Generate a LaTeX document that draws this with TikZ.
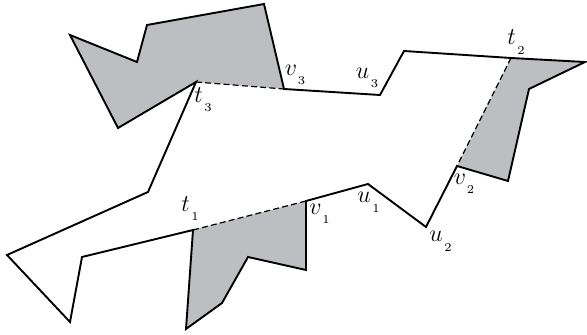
\documentclass[tikz,border=0pt]{standalone}
\usepackage{tikz}
\usetikzlibrary{calc}
\definecolor{pocketgray}{RGB}{189,190,194}
\newcommand{\lowidx}[1]{_{\kern0.8pt\raisebox{-3pt}{$\scriptscriptstyle #1$}}}

\begin{document}
\begin{tikzpicture}[x=0.5pt,y=-0.5pt,line join=miter,
  edge/.style={line width=0.95pt},
  chord/.style={line width=0.6pt,dashed,dash pattern=on 3pt off 1.6pt},
  lbl/.style={inner sep=0pt,font=\fontsize{13}{15}\selectfont}]
\useasboundingbox (0,0) rectangle (587,335);
%% named vertices
\coordinate (t3) at (196,82);
\coordinate (v3) at (284,89);
\coordinate (u3) at (380,95);
\coordinate (t2) at (511,58);
\coordinate (v2) at (457,166);
\coordinate (u2) at (426,227);
\coordinate (u1) at (368,184);
\coordinate (v1) at (306,201);
\coordinate (t1) at (193,230);
%% shaded pockets
\fill[pocketgray] (t1)--(186,329)--(222,303)--(248,257)--(306,270)--(v1)--cycle;
\fill[pocketgray] (v2)--(508,181)--(529,89)--(585,62)--(t2)--cycle;
\fill[pocketgray] (t3)--(v3)--(264,4)--(147,25)--(137,62)--(70,35)--(118,128)--cycle;
%% boundary
\draw[edge] (t3)--(148,192)--(7,255)--(70,322)--(82,257)--(t1)
  --(186,329)--(222,303)--(248,257)--(306,270)--(v1)--(u1)--(u2)--(v2)
  --(508,181)--(529,89)--(585,62)--(t2)--(404,51)--(u3)--(v3)
  --(264,4)--(147,25)--(137,62)--(70,35)--(118,128)--cycle;
%% dashed chords
\draw[chord] (t3)--(v3);
\draw[chord] (t1)--(v1);
\draw[chord] (t2)--(v2);
%% labels
\node[lbl] (t3l) at ($(t3)+(7.5,17.5)$) {$t\lowidx{3}$};
\node[lbl] (v3l) at ($(v3)+(11.5,-14)$) {$v\lowidx{3}$};
\node[lbl] (u3l) at ($(u3)+(-12.5,-17)$) {$u\lowidx{3}$};
\node[lbl] (t2l) at ($(t2)+(5.5,-16)$) {$t\lowidx{2}$};
\node[lbl] (t1l) at ($(t1)+(-2.5,-21.5)$) {$t\lowidx{1}$};
\node[lbl] (v1l) at ($(v1)+(14,13)$) {$v\lowidx{1}$};
\node[lbl] (u1l) at ($(u1)+(1,18.5)$) {$u\lowidx{1}$};
\node[lbl] (u2l) at ($(u2)+(15,14.5)$) {$u\lowidx{2}$};
\node[lbl] (v2l) at ($(v2)+(7.5,18)$) {$v\lowidx{2}$};
\end{tikzpicture}
\end{document}
